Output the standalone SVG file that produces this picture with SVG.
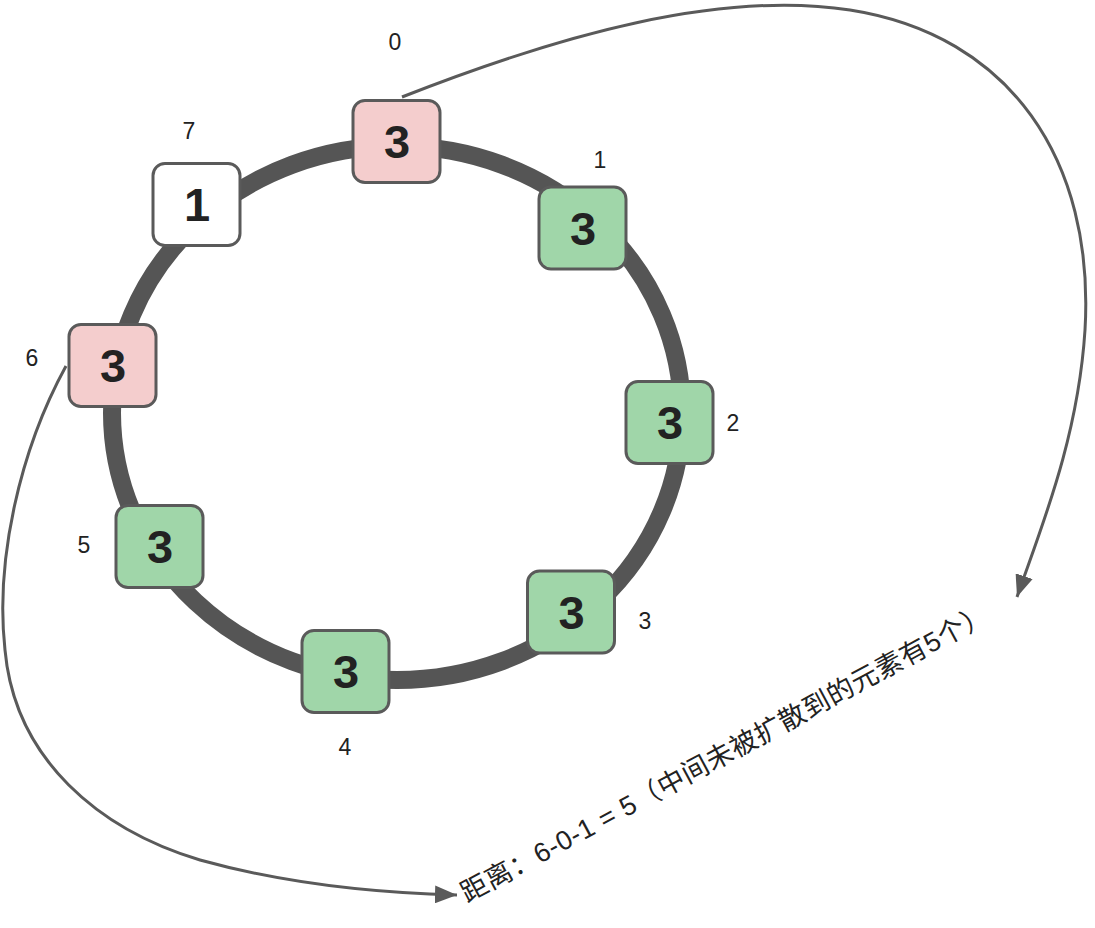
<svg xmlns="http://www.w3.org/2000/svg" width="1095" height="928" viewBox="0 0 1095 928">
<style>
.node rect{stroke:#5a5a5a;stroke-width:3}
.pink rect{fill:#f4cdcd}
.green rect{fill:#a0d6a9}
.white rect{fill:#ffffff}
.node text{font-family:"Liberation Sans",Arial,sans-serif;font-weight:bold;font-size:47px;fill:#222;text-anchor:middle}
.lbl{font-family:"Liberation Sans",Arial,sans-serif;font-size:23px;fill:#222;text-anchor:middle}
.conn{fill:none;stroke:#5a5a5a;stroke-width:3}
.note{font-family:"Liberation Sans","Noto Sans CJK SC",sans-serif;font-size:27px;letter-spacing:0.5px;fill:#222}
</style>
<defs>
<marker id="arr" markerUnits="userSpaceOnUse" markerWidth="24" markerHeight="18" refX="22" refY="9" orient="auto">
<path d="M0,0 L22,9 L0,18 Z" fill="#5a5a5a"/>
</marker>
</defs>
<g id="ring">
<ellipse cx="397" cy="413" rx="285" ry="267" fill="none" stroke="#555555" stroke-width="18"/>
</g>
<g id="connectors">
<path class="conn" d="M402,97 C560,35 720,-10 850,10 C1010,35 1095,160 1085,330 C1078,440 1040,530 1017,597" marker-end="url(#arr)"/>
<path class="conn" d="M66,366 C20,450 -5,560 5,650 C15,760 100,830 200,860 C290,885 380,893 457,895" marker-end="url(#arr)"/>
</g>
<g id="n0" class="node pink"><rect x="353" y="100.5" width="87" height="82" rx="12"/><text x="397" y="158">3</text></g>
<g id="n1" class="node green"><rect x="539" y="187" width="87" height="82" rx="12"/><text x="583" y="244.5">3</text></g>
<g id="n2" class="node green"><rect x="626" y="381.5" width="87" height="82" rx="12"/><text x="670" y="439">3</text></g>
<g id="n3" class="node green"><rect x="527.5" y="571" width="87" height="82" rx="12"/><text x="571.5" y="628.5">3</text></g>
<g id="n4" class="node green"><rect x="302" y="630.5" width="87" height="82" rx="12"/><text x="346" y="688">3</text></g>
<g id="n5" class="node green"><rect x="116" y="505.5" width="87" height="82" rx="12"/><text x="160" y="563">3</text></g>
<g id="n6" class="node pink"><rect x="69" y="324.5" width="87" height="82" rx="12"/><text x="113" y="382">3</text></g>
<g id="n7" class="node white"><rect x="153" y="163.5" width="87" height="82" rx="12"/><text x="197" y="221">1</text></g>
<g id="labels">
<text class="lbl" x="395" y="50">0</text>
<text class="lbl" x="600" y="168">1</text>
<text class="lbl" x="733" y="431">2</text>
<text class="lbl" x="645" y="629">3</text>
<text class="lbl" x="345" y="755">4</text>
<text class="lbl" x="84" y="553">5</text>
<text class="lbl" x="32" y="366">6</text>
<text class="lbl" x="189" y="139">7</text>
</g>
<g id="note">
<text class="note" transform="translate(467,903) rotate(-28.3)">距离：6-0-1 = 5（中间未被扩散到的元素有5个）</text>
</g>
</svg>
